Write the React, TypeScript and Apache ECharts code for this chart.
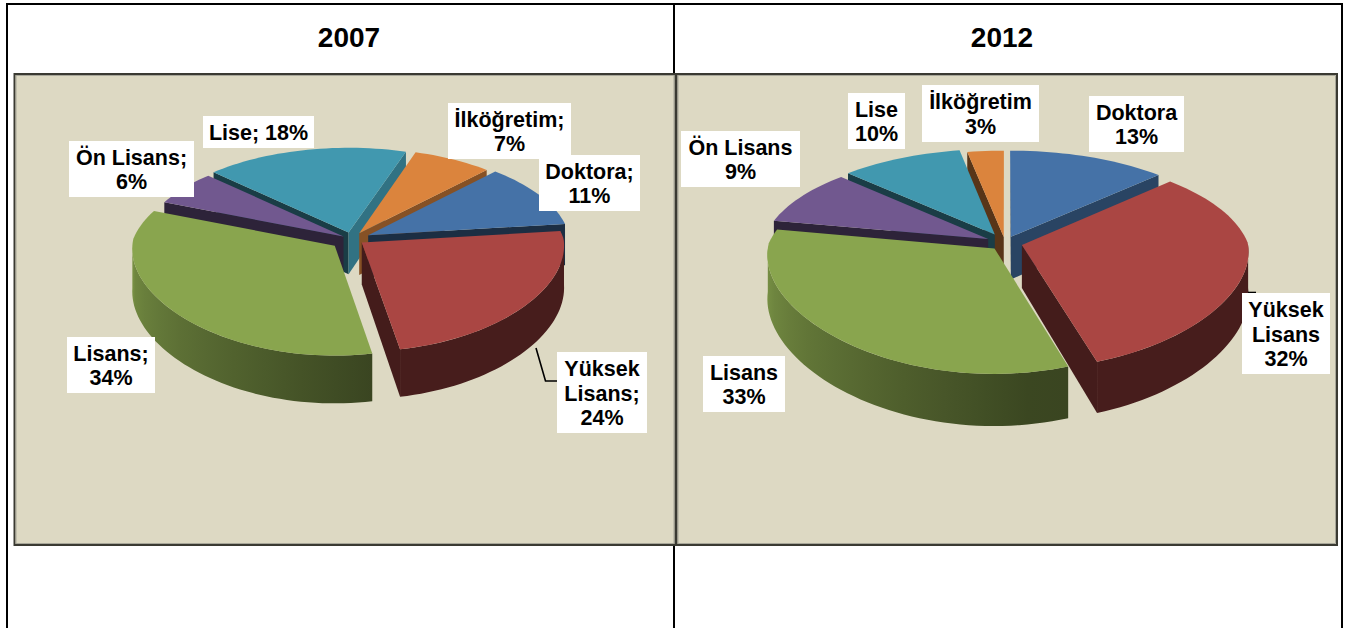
import React, { useEffect, useRef } from "react";
import * as echarts from "echarts";

const WIDTH = 1346;
const HEIGHT = 628;

const categories = ["Doktora", "Yüksek Lisans", "Lisans", "Ön Lisans", "Lise", "İlköğretim"];
const values2007 = [11, 24, 34, 6, 18, 7];
const values2012 = [13, 32, 33, 9, 10, 3];
const names2007 = ["Doktora;", "Yüksek\nLisans;", "Lisans;", "Ön Lisans;", "Lise;", "İlköğretim;"];
const names2012 = ["Doktora", "Yüksek\nLisans", "Lisans", "Ön Lisans", "Lise", "İlköğretim"];
const colors = ["#4572A7", "#AA4643", "#89A54E", "#71588F", "#4198AF", "#DB843D"];

const FONT = '"Liberation Sans", Arial, sans-serif';

// label boxes: x0, y0, x1, y1
const boxes2007 = [
  [539, 155, 640, 211],
  [557, 352, 647, 433],
  [67, 337, 155, 393],
  [69, 141, 194, 197],
  [203, 116, 314, 148],
  [448, 103, 571, 159],
];
const boxes2012 = [
  [1089, 96, 1184, 152],
  [1242, 293, 1330, 374],
  [703, 356, 785, 412],
  [681, 131, 800, 187],
  [848, 93, 905, 149],
  [922, 85, 1039, 142],
];

const pie2007 = {
  name: "2007",
  values: values2007,
  names: names2007,
  boxes: boxes2007,
  singleLine: [4],
  cx: 352,
  cy: 239,
  rx: 202,
  ry: 95.75,
  k: 0.1134,
  kxBack: 0.11,
  kxFront: 0.03,
  h: 42,
  start: 313.5,
  explode: [0.09, 0.06, 0.11, 0.05, 0.07, 0.07],
  leaders: [
    { index: 1, points: [[536, 348], [545.5, 381], [557, 381]] },
  ],
};
const pie2012 = {
  name: "2012",
  values: values2012,
  names: names2012,
  boxes: boxes2012,
  singleLine: [] as number[],
  cx: 1005,
  cy: 243,
  rx: 226,
  ry: 102.5,
  k: 0.167,
  kxBack: 0.15,
  kxFront: 0.06,
  h: 43,
  start: 270,
  explode: [0.066, 0.077, 0.07, 0.084, 0.095, 0.06],
  leaders: [
    { index: 1, points: [[1248, 292.5], [1256, 292.5]] },
  ],
};

const rad = (d: number) => (d * Math.PI) / 180;

function shade(hex: string, f: number) {
  const n = parseInt(hex.slice(1), 16);
  const c = [(n >> 16) & 255, (n >> 8) & 255, n & 255].map((v) => Math.round(v * f));
  return `rgb(${c[0]},${c[1]},${c[2]})`;
}

// brightness of a radial wall from the direction its face points to (0 = right, 180 = left)
function wallFactor(normal: number) {
  const a = Math.abs(((normal + 540) % 360) - 180);
  return Math.max(0.4, 0.85 - 0.0055 * a);
}

// brightness of the outer wall from the rim angle
function rimFactor(theta: number) {
  const t = ((theta % 360) + 360) % 360;
  if (t <= 80) return 0.42;
  return Math.min(0.9, 0.42 + ((t - 80) / 100) * 0.48);
}

function slices(pie: typeof pie2007) {
  const total = pie.values.reduce((a: number, b: number) => a + b, 0);
  let acc = pie.start;
  return pie.values.map((v: number) => {
    const span = (v / total) * 360;
    const s = { a0: acc, a1: acc + span, mid: acc + span / 2 };
    acc += span;
    return s;
  });
}

function renderPie(pie: typeof pie2007) {
  const layout = slices(pie);
  const order = layout
    .map((s: any, i: number) => ({ i, y: Math.sin(rad(s.mid)) }))
    .sort((p: any, q: any) => p.y - q.y)
    .map((p: any) => p.i);

  return (params: any, api: any) => {
    const i = params.dataIndex as number;
    const value = api.value(0) as number;
    const s = layout[i];
    const e = pie.explode[i];
    const ox = e * Math.cos(rad(s.mid));
    const oy = e * Math.sin(rad(s.mid));
    const project = (u: number, v: number, down: number) => {
      const w = 1 / (1 - pie.k * v);
      const wx = 1 / (1 - (v < 0 ? pie.kxBack : pie.kxFront) * v);
      return [pie.cx + pie.rx * u * wx, pie.cy + pie.ry * v * w + down * pie.h * w];
    };
    const rim = (deg: number, down: number) =>
      project(ox + Math.cos(rad(deg)), oy + Math.sin(rad(deg)), down);
    const apex = (down: number) => project(ox, oy, down);
    const arc = (from: number, to: number, down: number) => {
      const n = Math.max(2, Math.ceil(Math.abs(to - from) / 2));
      const pts: number[][] = [];
      for (let j = 0; j <= n; j++) pts.push(rim(from + ((to - from) * j) / n, down));
      return pts;
    };

    const base = colors[i];
    const rank = order.indexOf(i);
    const children: any[] = [];
    let z = rank * 10 + 1;

    const radial = (deg: number, normal: number) => {
      if (Math.sin(rad(normal)) <= 0) return;
      children.push({
        type: "polygon",
        z2: z++,
        shape: { points: [apex(0), rim(deg, 0), rim(deg, 1), apex(1)] },
        style: { fill: shade(base, wallFactor(normal)) },
      });
    };
    radial(s.a0, s.a0 - 90);
    radial(s.a1, s.a1 + 90);

    // outer wall: only the part of the rim that faces the viewer
    for (const k of [-360, 0, 360]) {
      const from = Math.max(s.a0, k);
      const to = Math.min(s.a1, k + 180);
      if (to <= from) continue;
      const top = arc(from, to, 0);
      const bottom = arc(to, from, 1);
      const xs = top.map((p) => p[0]);
      const minX = Math.min(...xs);
      const maxX = Math.max(...xs);
      const stops = top
        .filter((_, j) => j % 5 === 0 || j === top.length - 1)
        .map((p, j, list) => {
          const deg = from + ((to - from) * j) / Math.max(1, list.length - 1);
          return {
            offset: maxX > minX ? (p[0] - minX) / (maxX - minX) : 0,
            color: shade(base, rimFactor(deg)),
          };
        })
        .sort((p, q) => p.offset - q.offset);
      children.push({
        type: "polygon",
        z2: z++,
        shape: { points: top.concat(bottom) },
        style: { fill: new echarts.graphic.LinearGradient(0, 0, 1, 0, stops) },
      });
    }

    children.push({
      type: "polygon",
      z2: z++,
      shape: { points: [apex(0), ...arc(s.a0, s.a1, 0)] },
      style: { fill: base },
    });

    // leader lines and label boxes stay above every slice
    for (const l of pie.leaders) {
      if (l.index !== i) continue;
      children.push({
        type: "polyline",
        z2: 900,
        shape: { points: l.points },
        style: { stroke: "#000", lineWidth: 1.6, fill: "none" },
      });
    }
    const b = pie.boxes[i];
    children.push({
      type: "rect",
      z2: 1000,
      shape: { x: b[0], y: b[1], width: b[2] - b[0], height: b[3] - b[1] },
      style: { fill: "#fff" },
    });
    const sep = pie.singleLine.indexOf(i) >= 0 ? " " : "\n";
    children.push({
      type: "text",
      z2: 1001,
      style: {
        text: `${pie.names[i]}${sep}${value}%`,
        x: (b[0] + b[2]) / 2,
        y: (b[1] + b[3]) / 2 + 1,
        textAlign: "center",
        textVerticalAlign: "middle",
        fontFamily: FONT,
        fontWeight: "bold",
        fontSize: 21.5,
        lineHeight: 24.5,
        fill: "#000",
      },
    });
    return { type: "group", children };
  };
}

function tableLine(x1: number, y1: number, x2: number, y2: number) {
  return {
    type: "line",
    shape: { x1, y1, x2, y2 },
    style: { stroke: "#000", lineWidth: 2 },
  };
}

function panel(x: number, y: number, width: number, height: number) {
  return [
    {
      type: "rect",
      shape: { x, y, width, height },
      style: { fill: "#DDD9C3", stroke: "#3A3A32", lineWidth: 2 },
    },
    {
      type: "rect",
      shape: { x: x + 1.5, y: y + 1.5, width: width - 3, height: height - 3 },
      style: { fill: "none", stroke: "#A8A79A", lineWidth: 1 },
    },
  ];
}

export default function App() {
  const ref = useRef<HTMLDivElement>(null);
  useEffect(() => {
    document.body.style.margin = "0";
    const chart = echarts.init(ref.current!, undefined, { renderer: "svg" });
    const titleStyle = { fontFamily: FONT, fontWeight: "bold" as const, fontSize: 28, color: "#000" };
    const pies = [pie2007, pie2012];
    chart.setOption({
      animation: false,
      backgroundColor: "#fff",
      title: [
        { text: "2007", left: 344, top: 18, textAlign: "center", textStyle: titleStyle },
        { text: "2012", left: 997, top: 18, textAlign: "center", textStyle: titleStyle },
      ],
      graphic: {
        elements: [
          tableLine(6, 4, 1343, 4),
          tableLine(7, 4, 7, 628),
          tableLine(674, 4, 674, 628),
          tableLine(1342, 4, 1342, 628),
          ...panel(14.5, 74, 661, 471),
          ...panel(676.5, 74, 660.5, 471),
        ],
      },
      series: pies.map((pie) => ({
        type: "custom",
        name: pie.name,
        coordinateSystem: "none",
        silent: true,
        clip: false,
        renderItem: renderPie(pie as typeof pie2007),
        data: pie.values.map((v, i) => ({ name: categories[i], value: [v] })),
      })),
    });
    return () => chart.dispose();
  }, []);
  return (
    <div
      ref={ref}
      style={{ position: "absolute", left: 0, top: 0, width: WIDTH, height: HEIGHT }}
    />
  );
}
